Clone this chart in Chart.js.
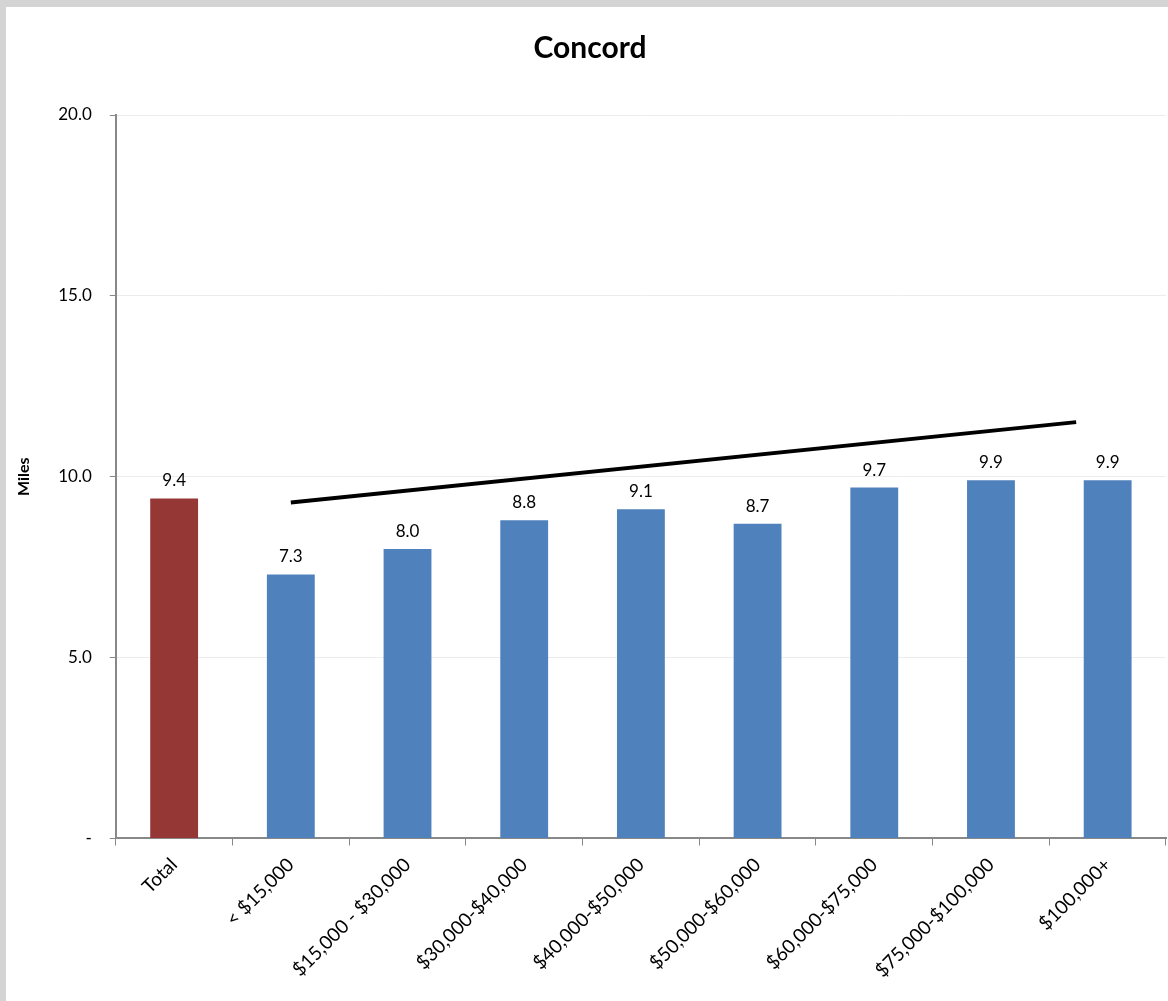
<!DOCTYPE html>
<html>
<head>
<meta charset="utf-8">
<script src="https://cdn.jsdelivr.net/npm/chart.js@4"></script>
<style>
html,body{margin:0;padding:0;background:#fff;}
#wrap{position:absolute;left:0;top:0;width:1168px;height:1001px;box-sizing:border-box;border-top:7px solid #d4d4d4;border-left:6px solid #d4d4d4;}
#frame{position:absolute;left:0;top:0;width:1162px;height:994px;}
</style>
</head>
<body>
<div id="wrap"><div id="frame"><canvas id="c" width="1162" height="994"></canvas></div></div>
<script>
const categories = ["Total", "< $15,000", "$15,000 - $30,000", "$30,000-$40,000", "$40,000-$50,000", "$50,000-$60,000", "$60,000-$75,000", "$75,000-$100,000", "$100,000+"];
const milesValues = [9.4, 7.3, 8.0, 8.8, 9.1, 8.7, 9.7, 9.9, 9.9];
const barColors = ["#953735", "#4F81BD", "#4F81BD", "#4F81BD", "#4F81BD", "#4F81BD", "#4F81BD", "#4F81BD", "#4F81BD"];
const trendX = [1.0, 7.73];
const trendY = [9.29, 11.51];
const yTicks = [0, 5, 10, 15, 20];

const FONT = "Lato, 'Open Sans', sans-serif";

const valueLabels = {
  id: 'valueLabels',
  afterDatasetsDraw(chart) {
    const ctx = chart.ctx;
    const meta = chart.getDatasetMeta(0);
    ctx.save();
    ctx.font = "17px " + FONT;
    ctx.fillStyle = "#000";
    ctx.textAlign = "center";
    ctx.textBaseline = "bottom";
    meta.data.forEach((bar, i) => {
      ctx.fillText(milesValues[i].toFixed(1), bar.x, bar.y - 9);
    });
    ctx.restore();
  }
};

new Chart(document.getElementById('c'), {
  type: 'bar',
  data: {
    labels: categories,
    datasets: [
      {
        type: 'bar',
        data: milesValues,
        backgroundColor: barColors,
        barPercentage: 0.41,
        categoryPercentage: 1.0,
        grouped: false,
        xAxisID: 'x',
        yAxisID: 'y',
        order: 2
      },
      {
        type: 'line',
        data: trendX.map((x, i) => ({x: x, y: trendY[i]})),
        borderColor: '#000',
        borderWidth: 4,
        pointRadius: 0,
        fill: false,
        xAxisID: 'x2',
        yAxisID: 'y',
        order: 1
      }
    ]
  },
  options: {
    responsive: false,
    animation: false,
    devicePixelRatio: 1,
    layout: {padding: {left: 8, right: 2, top: 19, bottom: 11}},
    plugins: {
      legend: {display: false},
      tooltip: {enabled: false},
      title: {
        display: true,
        text: 'Concord',
        color: '#000',
        font: {family: FONT, size: 30, weight: 'bold'},
        padding: {top: 4, bottom: 49}
      }
    },
    scales: {
      x: {
        type: 'category',
        offset: true,
        grid: {display: true, offset: true, drawOnChartArea: false, drawTicks: true, tickLength: 7, color: '#888', lineWidth: 1},
        border: {display: true, color: '#888', width: 2},
        ticks: {color: '#000', font: {family: FONT, size: 19}, minRotation: 45, maxRotation: 45, padding: 8, autoSkip: false}
      },
      x2: {
        type: 'linear',
        min: -0.5,
        max: 8.5,
        offset: false,
        display: false
      },
      y: {
        min: 0,
        max: 20,
        afterBuildTicks(scale) { scale.ticks = yTicks.map(v => ({value: v})); },
        grid: {color: '#ececec', lineWidth: 1, drawTicks: true, tickLength: 6, tickColor: '#888'},
        border: {display: true, color: '#888', width: 2},
        title: {display: true, text: 'Miles', color: '#000', font: {family: FONT, size: 16, weight: 'bold'}, padding: {top: 0, bottom: 7}},
        ticks: {color: '#000', font: {family: FONT, size: 17}, padding: 18, callback: v => v === 0 ? '-' : v.toFixed(1)}
      }
    }
  },
  plugins: [valueLabels]
});
</script>
</body>
</html>
